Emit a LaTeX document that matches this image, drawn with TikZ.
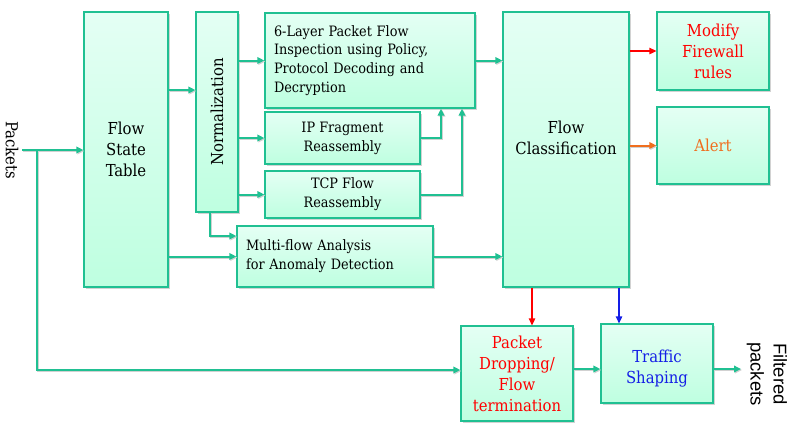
\documentclass[tikz,border=0pt]{standalone}
\usepackage{fontspec}
\setmainfont{DejaVu Serif Condensed}
\newfontfamily\sansfont{Liberation Sans}
\usetikzlibrary{positioning}
\usetikzlibrary{shadows}
\usetikzlibrary{arrows.meta}
\definecolor{flowteal}{RGB}{32,192,146}
\definecolor{flowtop}{RGB}{228,255,244}
\definecolor{flowbottom}{RGB}{190,255,224}
\definecolor{alertorange}{RGB}{240,110,30}
\definecolor{shapeblue}{RGB}{20,30,230}
\tikzset{
    % Arrow tip used on every connector
    >={Triangle[length=7pt,width=6.5pt]},
%
    % A pale green stage box with a thin shadow
    stage/.style={
        draw=flowteal, line width=1.3pt,
        top color=flowtop, bottom color=flowbottom,
        drop shadow={shadow xshift=1.5pt, shadow yshift=-1.5pt, fill=black!35},
        align=center, inner sep=4pt},
%
    % Text of the stage boxes
    stage text/.style={font=\fontsize{16.5}{21}\selectfont},
    small text/.style={font=\fontsize{14.3}{18.8}\selectfont},
%
    % The main data path between stages
    pipe/.style={
        draw=flowteal, line width=2pt, ->,
        preaction={draw=black!18, line width=2pt,
            transform canvas={shift={(1pt,-1pt)}}}},
%
    % The thinner coloured control paths
    signal/.style={line width=1.3pt, ->}}

\begin{document}
\begin{tikzpicture}[x=1pt, y=-1pt]

\useasboundingbox (0,0) rectangle (807,426);

% stages
\node (fst) [stage, stage text, minimum width=84pt, minimum height=275pt]
    at (126,149.5) {Flow\\State\\Table};
\node (norm) [stage, minimum width=42pt, minimum height=200pt,
    label={[rotate=90, stage text]center:Normalization}] at (217,112) {};
\node (inspect) [stage, small text, align=left, minimum width=210pt,
    minimum height=95pt, text width=192pt, inner xsep=9pt] at (370,60.5)
    {6-Layer Packet Flow\\Inspection using Policy,\\Protocol Decoding and\\Decryption};
\node (ipfrag) [stage, small text, minimum width=155pt, minimum height=52pt]
    at (342.5,138) {IP Fragment\\Reassembly};
\node (tcp) [stage, small text, minimum width=155pt, minimum height=47pt]
    at (342.5,194.5) {TCP Flow\\Reassembly};
\node (multi) [stage, small text, align=left, minimum width=196pt,
    minimum height=61pt, text width=178pt, inner xsep=9pt] at (335,256.5)
    {Multi-flow Analysis\\for Anomaly Detection};
\node (classif) [stage, stage text, text depth=24pt, minimum width=126pt,
    minimum height=275pt] at (566,149.5) {Flow\\Classification};
\node (firewall) [stage, stage text, text=red, minimum width=112pt, minimum height=78pt]
    at (713,51) {Modify\\Firewall\\rules};
\node (alert) [stage, stage text, text=alertorange, minimum width=112pt, minimum height=77pt]
    at (713,145.5) {Alert};
\node (drop) [stage, stage text, text=red, minimum width=112pt, minimum height=95pt]
    at (517,373.5) {Packet\\Dropping/\\Flow\\termination};
\node (shaping) [stage, stage text, text=shapeblue, text height=43pt,
    minimum width=112pt, minimum height=79pt] at (657,363.5) {Traffic\\Shaping};

% input and output labels
\node (packets) [rotate=-90, stage text] at (12,150) {Packets};
\node (filtered) [rotate=-90, align=center, font=\sansfont\fontsize{18.5}{23}\selectfont]
    at (767,374) {Filtered\\packets};
\coordinate (pin) at (22,150);
\coordinate (split) at (37,150);
\coordinate (pout) at (741,369);

% data path
\draw [pipe] (pin) -- (fst.west |- pin);
\draw [pipe] (split) |- ([yshift=3.5pt]drop.west);
\draw [pipe] ([yshift=22pt]norm.west -| fst.east) -- ([yshift=22pt]norm.west);
\draw [pipe] (norm.east |- inspect.west) -- (inspect.west);
\draw [pipe] (norm.east |- ipfrag.west) -- (ipfrag.west);
\draw [pipe] (norm.east |- tcp.west) -- (tcp.west);
\draw [pipe] ([xshift=-7pt]norm.south) |- ([yshift=20.5pt]multi.west);
\draw [pipe] (fst.east |- multi.west) -- (multi.west);
\draw [pipe] (ipfrag.east) -| ([xshift=71pt]inspect.south);
\draw [pipe] (tcp.east) -| ([xshift=92pt]inspect.south);
\draw [pipe] (inspect.east) -- (inspect.east -| classif.west);
\draw [pipe] (multi.east) -- (multi.east -| classif.west);
\draw [pipe] ([yshift=4.5pt]drop.east) -- ([yshift=4.5pt]drop.east -| shaping.west);
\draw [pipe] (shaping.east |- pout) -- (pout);

% control paths
\draw [signal, red] (classif.east |- firewall.west) -- (firewall.west);
\draw [pipe, draw=alertorange] (classif.east |- alert.west) -- (alert.west);
\draw [signal, red] ([xshift=15pt]drop.north |- classif.south) -- ([xshift=15pt]drop.north);
\draw [signal, shapeblue] ([xshift=-38pt]shaping.north |- classif.south) -- ([xshift=-38pt]shaping.north);

\end{tikzpicture}
\end{document}
